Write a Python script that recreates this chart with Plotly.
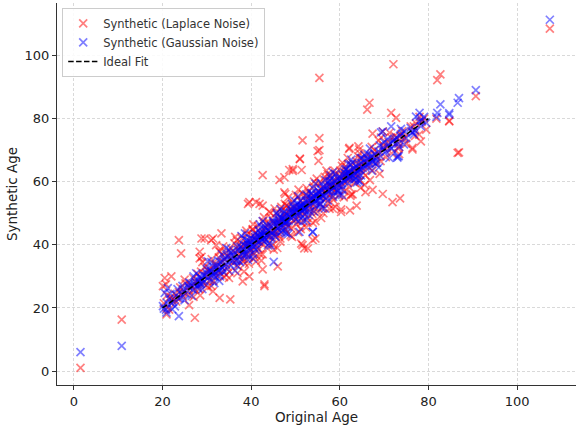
import plotly.graph_objects as go

# Original ages (shared x for both synthetic series)
original_age = [
    1.5, 10.8, 107.4, 90.7, 86.9, 84.7, 82.7, 82.0, 81.8, 72.1, 66.7, 66.2, 71.6, 72.7, 78.0,
    55.4, 51.6, 55.4, 55.4, 51.0, 55.2, 48.6, 51.4, 62.1, 64.2, 42.6, 67.4, 65.8, 69.7, 71.9,
    73.6, 63.8, 62.3, 60.3, 73.4, 76.4, 73.0, 28.8, 31.4, 33.3, 28.4, 28.8, 43.0, 42.6, 46.0,
    39.6, 41.9, 47.7, 47.9, 23.7, 24.2, 27.3, 26.0, 23.7, 35.3, 32.9, 20.5, 22.0, 20.1, 21.2,
    20.9, 20.8, 28.5, 31.4, 43.0, 29.5, 31.0, 32.1, 28.4,
    77.9, 78.3, 76.4, 69.3, 73.3, 77.2, 73.8, 49.4, 47.5, 62.2, 64.4, 52.0, 51.3, 53.9, 57.7,
    60.3, 53.9, 50.9, 49.4, 51.0, 55.0, 46.4, 47.5, 41.1, 42.6, 39.3, 51.6, 52.8, 54.5,
    39.6, 38.1, 41.1, 45.1, 69.7, 71.6, 74.5, 67.4, 84.7, 86.6, 73.0,
    20.3, 21.0, 21.5, 22.4, 23.1, 24.0, 24.6, 25.2, 25.8, 26.3, 26.9, 27.4, 27.9, 28.3, 28.7,
    29.1, 29.5, 29.9, 30.3, 30.7, 31.1, 31.5, 31.9, 32.3, 32.7, 33.1, 33.5, 33.9, 34.3, 34.7,
    35.1, 35.5, 35.9, 36.2, 36.6, 37.0, 37.3, 37.6, 37.9, 38.2, 38.5, 38.8, 39.1, 39.4, 39.7,
    40.0, 40.3, 40.6, 40.9, 41.2, 41.5, 41.8, 42.1, 42.4, 42.7, 43.0, 43.3, 43.6, 43.9, 44.2,
    44.5, 44.8, 45.1, 45.4, 45.7, 46.0, 46.3, 46.6, 46.9, 47.2, 47.5, 47.8, 48.1, 48.4, 48.7,
    49.0, 49.3, 49.6, 49.9, 50.2, 50.5, 50.8, 51.1, 51.4, 51.7, 52.0, 52.3, 52.6, 52.9, 53.2,
    53.5, 53.8, 54.1, 54.4, 54.7, 55.0, 55.3, 55.6, 55.9, 56.2, 56.5, 56.8, 57.1, 57.4, 57.7,
    58.0, 58.3, 58.6, 58.9, 59.2, 59.5, 59.8, 60.1, 60.4, 60.7, 61.0, 61.3, 61.6, 61.9, 62.2,
    62.5, 62.8, 63.1, 63.4, 63.7, 64.0, 64.3, 64.6, 64.9, 65.2, 65.5, 65.8, 66.2, 66.6, 67.0,
    67.4, 67.8, 68.2, 68.7, 69.2, 69.8, 70.4, 71.0, 71.7, 72.4, 73.2, 74.1, 75.0, 76.0, 77.0,
    78.5, 79.5,
    36.0, 38.0, 40.2, 42.0, 44.0, 46.2, 48.0, 50.0, 52.2, 54.0, 56.0, 58.2, 60.0, 62.0, 39.0,
    41.0, 45.0, 47.0, 49.5, 51.5, 53.5, 55.5, 57.5, 59.5, 61.5, 63.5, 34.0, 32.0, 30.0, 28.0,
    26.0, 65.0, 68.0, 70.0, 43.5, 37.5, 53.0, 56.8, 47.5, 58.5, 45.5,
    25.0, 27.0, 29.0, 31.0, 33.0, 35.0, 36.8, 38.4, 40.5, 42.3, 44.1, 45.9, 47.6, 49.2, 50.7,
    52.4, 54.2, 55.8, 57.3, 59.0, 60.6, 62.4, 64.1, 65.6, 67.2, 69.0, 71.2, 35.4, 37.2, 39.8,
    41.4, 43.2, 44.6, 46.4, 48.2, 50.4, 52.1, 53.7, 55.7, 57.8, 59.7, 61.2, 63.2, 66.4, 68.4,
    30.6, 32.6, 34.6, 24.5, 22.8, 40.8, 46.8, 52.7, 58.8, 64.7, 38.9, 44.9, 50.1, 56.3, 61.8,
    42.9, 48.9, 54.8, 60.9, 36.9, 33.7, 39.5, 45.3, 51.2, 57.0, 62.9, 41.7, 47.3, 53.3, 58.1,
    64.8, 70.7, 74.6, 76.7, 79.0,
    30.2, 32.8, 34.4, 36.4, 38.6, 40.4, 42.6, 44.4, 46.6, 48.4, 50.6, 52.5, 54.5, 56.6, 58.4,
    60.5, 62.6, 64.5, 66.8, 68.8, 37.8, 39.3, 41.9, 43.8, 45.8, 47.9, 49.7, 51.8, 53.9, 55.9,
    57.9, 59.9, 61.9, 63.9, 33.4, 31.7, 27.6, 26.6, 23.4, 22.2, 21.8,
]

laplace_age = [
    1.0, 16.3, 108.5, 87.1, 69.3, 79.3, 94.0, 92.2, 80.0, 97.2, 85.0, 82.8, 81.8, 80.2, 80.5,
    92.9, 73.1, 73.8, 70.0, 67.3, 66.6, 63.7, 63.7, 70.4, 71.2, 62.1, 57.4, 56.7, 56.1, 53.5,
    54.7, 52.4, 50.9, 51.2, 68.7, 70.2, 74.0, 42.0, 42.0, 43.6, 37.8, 36.2, 26.9, 32.2, 33.2,
    53.5, 53.0, 56.1, 52.4, 41.5, 37.3, 16.9, 20.9, 25.0, 22.7, 23.2, 29.5, 30.0, 26.9, 20.3,
    18.0, 27.5, 24.0, 25.3, 27.5, 42.0, 41.5, 39.9, 35.7,
    74.9, 72.8, 70.7, 74.0, 71.0, 78.5, 75.0, 64.0, 61.4, 70.7, 70.2, 38.9, 40.4, 41.5, 51.4,
    50.4, 47.0, 51.8, 63.4, 67.1, 69.7, 60.6, 56.6, 53.5, 52.4, 53.0, 39.9, 38.9, 42.0,
    30.0, 28.4, 34.7, 38.5, 75.9, 74.0, 73.5, 75.2, 79.1, 69.1, 72.5,
    21.5, 24.0, 19.5, 23.0, 22.0, 26.5, 23.5, 27.8, 24.2, 27.0, 29.5, 25.8, 30.8, 26.0, 31.5,
    28.0, 33.0, 27.2, 31.8, 29.0, 35.5, 28.5, 33.8, 30.2, 36.0, 31.0, 34.5, 29.8, 37.5, 33.0,
    31.5, 38.8, 34.2, 40.5, 35.0, 33.2, 39.8, 36.5, 42.0, 34.8, 40.0, 37.2, 43.5, 36.0, 41.2,
    38.0, 44.8, 37.5, 42.5, 39.5, 46.0, 38.6, 44.0, 40.2, 47.5, 41.0, 45.5, 39.0, 46.8, 42.5,
    48.5, 41.8, 47.0, 43.5, 50.0, 44.0, 48.2, 42.0, 50.8, 45.5, 49.5, 44.8, 52.5, 46.0, 51.0,
    45.2, 53.5, 47.8, 52.0, 46.5, 55.0, 49.0, 53.8, 47.2, 56.2, 50.0, 54.5, 48.5, 57.0, 51.5,
    55.8, 49.8, 58.5, 52.0, 56.5, 50.5, 59.5, 53.0, 57.8, 51.8, 60.5, 54.5, 58.8, 53.0, 61.5,
    56.0, 60.0, 54.2, 62.5, 57.5, 61.0, 55.5, 63.5, 58.5, 62.0, 57.0, 64.8, 60.0, 63.0, 58.2,
    65.5, 61.0, 64.0, 59.5, 66.5, 62.0, 65.0, 60.5, 67.2, 63.0, 66.0, 62.0, 68.5, 64.5, 67.5,
    63.5, 70.0, 65.8, 69.0, 66.5, 71.5, 67.8, 72.5, 69.0, 74.5, 70.5, 76.0, 72.0, 77.5, 74.5,
    79.0, 76.5,
    38.0, 35.5, 42.8, 37.0, 46.5, 43.0, 50.5, 48.0, 55.5, 50.8, 58.0, 55.0, 61.8, 60.8, 40.5,
    43.8, 44.5, 48.5, 51.5, 50.5, 53.8, 55.0, 57.2, 59.8, 62.5, 63.0, 35.5, 33.5, 30.5, 28.5,
    25.5, 65.5, 68.5, 70.5, 43.0, 37.0, 52.5, 56.5, 47.0, 58.0, 45.8,
    29.0, 23.5, 34.5, 27.0, 37.8, 29.5, 41.5, 31.5, 46.5, 35.0, 50.5, 39.0, 53.0, 42.5, 57.5,
    45.5, 60.0, 48.5, 62.5, 52.0, 66.0, 55.5, 68.0, 59.0, 71.0, 62.5, 75.5, 35.8, 38.5, 38.2,
    41.0, 44.5, 43.8, 47.5, 47.0, 51.0, 51.5, 54.5, 55.5, 58.5, 59.0, 62.0, 62.5, 67.0, 68.0,
    32.5, 31.5, 36.5, 25.0, 24.5, 36.0, 52.0, 47.0, 63.5, 58.0, 44.5, 40.0, 55.8, 50.0, 67.5,
    48.8, 43.0, 61.0, 55.0, 31.0, 39.5, 34.0, 51.5, 45.0, 63.5, 56.0, 41.5, 47.2, 53.0, 58.2,
    64.5, 71.0, 74.0, 77.5, 80.0,
    26.5, 38.0, 30.5, 42.5, 34.0, 45.0, 37.0, 50.0, 41.0, 55.0, 44.0, 58.0, 47.5, 61.5, 51.5,
    65.0, 56.0, 69.0, 60.5, 73.0, 39.5, 40.0, 42.5, 43.0, 46.2, 48.5, 50.5, 52.5, 54.5, 56.5,
    58.5, 60.2, 62.0, 64.5, 33.0, 31.5, 28.0, 27.0, 23.0, 22.5, 23.5,
]

gaussian_age = [
    6.0, 8.0, 111.3, 89.0, 86.5, 81.2, 84.5, 81.8, 80.5, 73.0, 66.0, 65.5, 70.5, 74.0, 81.8,
    55.0, 52.0, 56.5, 54.5, 50.0, 57.0, 49.0, 52.5, 61.0, 63.5, 43.0, 66.5, 64.5, 70.0, 72.5,
    74.5, 62.5, 61.5, 59.0, 71.0, 75.5, 68.0, 29.5, 30.5, 33.0, 28.0, 29.0, 42.0, 42.0, 45.0,
    40.0, 42.5, 48.0, 47.0, 23.0, 24.5, 27.5, 26.5, 17.4, 35.0, 32.0, 24.8, 21.5, 20.6, 26.3,
    18.5, 19.5, 28.5, 31.0, 43.5, 30.2, 31.5, 32.8, 27.5,
    79.0, 77.5, 75.8, 75.6, 68.1, 80.6, 76.7, 49.8, 48.0, 62.8, 63.9, 51.2, 52.0, 44.1, 57.0,
    61.0, 44.1, 44.1, 50.2, 51.8, 55.6, 46.8, 47.0, 41.5, 43.0, 40.0, 51.0, 53.4, 54.0,
    39.0, 37.5, 41.5, 34.6, 75.9, 77.5, 71.8, 68.0, 81.7, 85.0, 67.6,
    19.8, 21.6, 22.8, 21.9, 24.0, 23.2, 25.9, 24.6, 26.9, 27.8, 25.8, 28.3, 27.0, 29.9, 27.6,
    30.5, 28.4, 31.2, 29.6, 32.0, 30.2, 32.9, 31.0, 33.5, 31.8, 34.6, 32.5, 35.2, 33.8, 36.3,
    34.0, 36.7, 35.1, 37.6, 34.9, 38.3, 36.2, 39.4, 37.0, 40.1, 36.8, 39.6, 38.0, 41.2, 39.0,
    40.8, 41.9, 39.3, 42.4, 40.2, 42.9, 41.0, 43.5, 41.5, 44.0, 42.2, 45.1, 43.0, 44.7, 43.1,
    46.0, 44.0, 46.8, 44.3, 47.0, 45.2, 47.9, 46.0, 48.4, 46.1, 49.0, 47.2, 49.6, 47.5, 50.3,
    48.6, 50.8, 48.9, 51.4, 49.8, 51.9, 50.1, 52.6, 51.0, 53.0, 51.2, 53.9, 52.0, 54.1, 52.5,
    54.9, 53.2, 55.4, 53.6, 56.0, 54.3, 56.8, 55.0, 57.3, 55.6, 57.9, 56.0, 58.4, 57.0, 58.9,
    57.3, 59.8, 58.0, 60.1, 58.5, 61.0, 59.0, 61.4, 59.6, 62.1, 60.2, 62.6, 61.0, 63.2, 61.5,
    63.8, 62.0, 64.4, 62.6, 64.9, 63.1, 65.5, 63.9, 66.0, 64.4, 66.9, 65.0, 67.4, 65.6, 68.0,
    66.3, 68.8, 67.0, 69.6, 68.0, 70.9, 69.5, 71.8, 70.6, 73.5, 72.0, 75.2, 73.8, 77.0, 76.2,
    79.5, 78.6,
    36.5, 38.7, 40.0, 42.6, 44.4, 46.9, 47.6, 50.6, 51.8, 54.6, 55.6, 58.8, 60.5, 62.4, 41.5,
    38.5, 47.5, 44.6, 52.0, 48.8, 56.2, 52.8, 60.0, 57.0, 64.0, 61.0, 36.0, 29.8, 32.2, 26.2,
    28.0, 67.5, 65.8, 72.5, 46.5, 34.5, 49.5, 60.5, 50.5, 55.2, 42.5,
    22.5, 30.0, 26.0, 34.5, 30.0, 38.5, 33.5, 42.0, 37.0, 45.5, 40.5, 49.5, 44.0, 53.0, 47.5,
    56.0, 50.5, 59.5, 54.0, 62.5, 57.5, 65.5, 60.5, 68.5, 63.5, 71.5, 67.5, 37.5, 35.0, 42.0,
    39.0, 45.5, 42.4, 48.8, 45.8, 52.8, 49.6, 56.4, 53.0, 60.3, 57.2, 63.8, 60.6, 68.8, 66.0,
    28.5, 35.0, 32.3, 27.0, 20.5, 43.5, 44.0, 55.5, 56.5, 67.5, 37.0, 47.5, 48.0, 58.5, 59.5,
    41.0, 51.5, 52.5, 63.0, 39.5, 31.5, 36.5, 43.0, 54.0, 55.0, 66.0, 44.5, 50.0, 50.5, 61.0,
    62.0, 73.5, 76.0, 75.0, 80.5,
    34.8, 28.6, 39.0, 31.8, 43.6, 35.6, 47.5, 39.8, 51.3, 43.5, 55.4, 47.8, 59.4, 51.5, 63.0,
    55.8, 67.0, 60.0, 70.5, 64.5, 42.8, 35.2, 46.5, 39.8, 50.2, 43.6, 54.0, 47.5, 58.0, 51.6,
    62.0, 55.8, 65.6, 59.8, 37.0, 27.9, 31.0, 23.8, 26.0, 19.6, 24.5,
]

ideal_fit = [20, 80]

series_names = ["Synthetic (Laplace Noise)", "Synthetic (Gaussian Noise)", "Ideal Fit"]
x_ticks = [0, 20, 40, 60, 80, 100]
y_ticks = [0, 20, 40, 60, 80, 100]

fig = go.Figure()

fig.add_trace(go.Scatter(
    x=original_age, y=laplace_age, mode="markers", name=series_names[0],
    marker=dict(symbol="x-thin", size=8, color="rgba(255,0,0,0.5)",
                line=dict(width=1.7, color="rgba(255,0,0,0.5)")),
))
fig.add_trace(go.Scatter(
    x=original_age, y=gaussian_age, mode="markers", name=series_names[1],
    marker=dict(symbol="x-thin", size=8, color="rgba(0,0,255,0.5)",
                line=dict(width=1.7, color="rgba(0,0,255,0.5)")),
))
fig.add_trace(go.Scatter(
    x=ideal_fit, y=ideal_fit, mode="lines", name=series_names[2],
    line=dict(color="black", width=1.6, dash="5.5px,2.4px"),
))

axis_common = dict(
    showline=True, linecolor="#333333", linewidth=1.3, mirror=False,
    ticks="outside", ticklen=4, tickwidth=1, tickcolor="#333333",
    showgrid=True, gridcolor="#d9d9d9", gridwidth=0.8, griddash="3px,2px",
    zeroline=False, tickfont=dict(size=13, color="#222222"),
)

fig.update_layout(
    width=576, height=425,
    margin=dict(l=57, r=0, t=3, b=37),
    paper_bgcolor="white", plot_bgcolor="white",
    font=dict(family="DejaVu Sans", color="#222222"),
    showlegend=True,
    legend=dict(
        x=0.01, y=0.987, xanchor="left", yanchor="top",
        bgcolor="rgba(255,255,255,0.85)", bordercolor="#cccccc", borderwidth=1,
        font=dict(size=11.5, color="#333333"), tracegroupgap=0,
    ),
    xaxis=dict(range=[-3.8, 113.3], tickvals=x_ticks,
               title=dict(text="Original Age", font=dict(size=13.5), standoff=7),
               **axis_common),
    yaxis=dict(range=[-4.4, 116.6], tickvals=y_ticks,
               title=dict(text="Synthetic Age", font=dict(size=13.5), standoff=3),
               **axis_common),
)

fig.write_html("out.html", config={"displayModeBar": False},
               post_script="document.body.style.margin='0';")
